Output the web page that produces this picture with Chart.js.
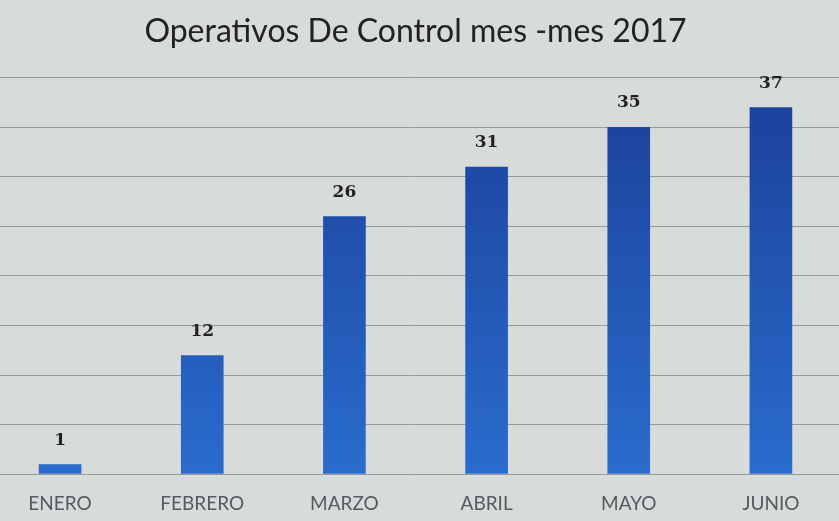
<!DOCTYPE html>
<html>
<head>
<meta charset="utf-8">
<script src="https://cdn.jsdelivr.net/npm/chart.js@4/dist/chart.umd.min.js"></script>
<style>
  html, body { margin: 0; padding: 0; overflow: hidden; background: #d7dbda; }
  #wrap { position: absolute; left: -11px; top: 0; width: 853px; height: 539px; }
</style>
</head>
<body>
<div id="wrap"><canvas id="operativosChart"></canvas></div>
<script>
const meses = ["ENERO", "FEBRERO", "MARZO", "ABRIL", "MAYO", "JUNIO"];
const operativos = [1, 12, 26, 31, 35, 37];
const titulo = "Operativos De Control mes -mes 2017";

// dibuja el valor encima de cada barra
const valoresArriba = {
  id: "valoresArriba",
  afterDatasetsDraw(chart) {
    const ctx = chart.ctx;
    const meta = chart.getDatasetMeta(0);
    ctx.save();
    ctx.font = "bold 17px 'DejaVu Serif'";
    ctx.fillStyle = "#222";
    ctx.textAlign = "center";
    ctx.textBaseline = "middle";
    meta.data.forEach((bar, i) => {
      ctx.fillText(operativos[i], bar.x, bar.y - 24);
    });
    ctx.restore();
  },
};

const ctx = document.getElementById("operativosChart").getContext("2d");
const myChart = new Chart(ctx, {
  type: "bar",
  data: {
    labels: meses,
    datasets: [
      {
        label: "Operativos",
        data: operativos,
        backgroundColor: function (context) {
          const area = context.chart.chartArea;
          if (!area) return "#2559bb";
          const g = context.chart.ctx.createLinearGradient(0, area.bottom, 0, area.top);
          g.addColorStop(0, "#2a6ccd");
          g.addColorStop(1, "#1b3f98");
          return g;
        },
        borderWidth: 0,
        barPercentage: 0.3,
        categoryPercentage: 1,
      },
    ],
  },
  options: {
    responsive: true,
    maintainAspectRatio: false,
    animation: false,
    layout: {
      padding: { top: 0, bottom: 6, left: 0, right: 0 },
    },
    plugins: {
      legend: { display: false },
      tooltip: { enabled: false },
      title: {
        display: true,
        text: titulo,
        color: "#222",
        font: { family: "Lato", size: 32, weight: "normal" },
        padding: { top: 12, bottom: 27 },
      },
    },
    scales: {
      x: {
        grid: { display: false, drawTicks: false },
        border: { display: false },
        ticks: {
          color: "#555a60",
          font: { family: "Lato", size: 19 },
          padding: 18,
        },
      },
      y: {
        min: 0,
        max: 40,
        grid: {
          color: "rgba(95,100,100,0.55)",
          lineWidth: 1,
          drawTicks: false,
        },
        border: { display: false },
        ticks: {
          display: false,
          stepSize: 5,
        },
      },
    },
  },
  plugins: [valoresArriba],
});
</script>
</body>
</html>
